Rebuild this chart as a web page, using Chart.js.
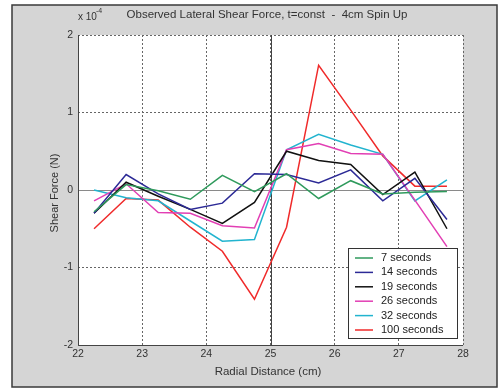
<!DOCTYPE html>
<html>
<head>
<meta charset="utf-8">
<script src="https://cdn.jsdelivr.net/npm/chart.js@4/dist/chart.umd.min.js"></script>
<style>
  body { margin: 0; background: #fff; }
  #wrap { width: 503px; height: 389px; position: relative; }
</style>
</head>
<body>
<div id="wrap"><canvas id="c" width="503" height="389"></canvas></div>
<script>
// radial positions (cm) and shear force values (x 1e-4 N)
const radialDistance = [22.25, 22.75, 23.25, 23.75, 24.25, 24.75, 25.25, 25.75, 26.25, 26.75, 27.25, 27.75];
const sec7   = [-0.28, 0.07, -0.01, -0.12, 0.19, -0.02, 0.21, -0.11, 0.12, -0.05, -0.03, -0.02];
const sec14  = [-0.30, 0.20, -0.05, -0.25, -0.17, 0.21, 0.20, 0.09, 0.26, -0.14, 0.15, -0.38];
const sec19  = [-0.30, 0.10, -0.08, -0.25, -0.43, -0.16, 0.50, 0.38, 0.33, -0.06, 0.23, -0.50];
const sec26  = [-0.14, 0.08, -0.29, -0.30, -0.46, -0.49, 0.52, 0.60, 0.47, 0.46, -0.13, -0.73];
const sec32  = [0.00, -0.10, -0.14, -0.40, -0.66, -0.64, 0.52, 0.72, 0.58, 0.46, -0.14, 0.13];
const sec100 = [-0.50, -0.11, -0.13, -0.48, -0.79, -1.41, -0.48, 1.61, 1.03, 0.44, 0.05, 0.05];
const seriesLabels = ['7 seconds', '14 seconds', '19 seconds', '26 seconds', '32 seconds', '100 seconds'];
const seriesColors = ['#2f9a5c', '#2c2a96', '#111111', '#e23fb4', '#22b4cf', '#f02a2a'];
const xTicks = [22, 23, 24, 25, 26, 27, 28];
const yTicks = [-2, -1, 0, 1, 2];

const allSeries = [sec7, sec14, sec19, sec26, sec32, sec100];
const FONT = 'Arial, "Liberation Sans", sans-serif';

const datasets = allSeries.map(function (vals, i) {
    return {
        label: seriesLabels[i],
        data: vals.map(function (v, j) { return { x: radialDistance[j], y: v }; }),
        borderColor: seriesColors[i],
        backgroundColor: seriesColors[i],
        borderWidth: 1.5,
        pointRadius: 0,
        tension: 0,
        fill: false
    };
});

// grey figure frame, title, axis titles, reference lines, legend box
const decor = {
    id: 'decor',
    beforeDraw(chart) {
        const ctx = chart.ctx;
        const a = chart.chartArea;
        ctx.save();
        ctx.fillStyle = '#d5d5d5';
        ctx.fillRect(12, 5, 485, 382);
        ctx.strokeStyle = '#3a3a3a';
        ctx.lineWidth = 1.5;
        ctx.strokeRect(12, 5, 485, 382);
        ctx.fillStyle = '#ffffff';
        ctx.fillRect(a.left, a.top, a.right - a.left, a.bottom - a.top);
        ctx.restore();
    },
    beforeDatasetsDraw(chart) {
        const ctx = chart.ctx;
        const xs = chart.scales.x, ys = chart.scales.y;
        const a = chart.chartArea;
        ctx.save();
        // zero line
        ctx.strokeStyle = '#8a8a8a';
        ctx.lineWidth = 1;
        const y0 = Math.round(ys.getPixelForValue(0)) + 0.5;
        ctx.beginPath(); ctx.moveTo(a.left, y0); ctx.lineTo(a.right, y0); ctx.stroke();
        // vertical line at 25 cm
        ctx.strokeStyle = '#444';
        const x25 = Math.round(xs.getPixelForValue(25)) + 0.5;
        ctx.beginPath(); ctx.moveTo(x25, a.top); ctx.lineTo(x25, a.bottom); ctx.stroke();
        // solid left / bottom axes
        ctx.strokeStyle = '#444';
        ctx.beginPath();
        ctx.moveTo(a.left + 0.5, a.top); ctx.lineTo(a.left + 0.5, a.bottom + 0.5);
        ctx.lineTo(a.right, a.bottom + 0.5);
        ctx.stroke();
        ctx.restore();
    },
    afterDraw(chart) {
        const ctx = chart.ctx;
        ctx.save();
        ctx.fillStyle = '#333';
        ctx.textBaseline = 'middle';
        // title
        ctx.font = '11.5px ' + FONT;
        ctx.textAlign = 'center';
        ctx.fillText('Observed Lateral Shear Force, t=const  -  4cm Spin Up', 267, 15);
        // exponent label
        ctx.textAlign = 'left';
        ctx.font = '10px ' + FONT;
        ctx.fillText('x 10', 78, 17);
        ctx.font = '7px ' + FONT;
        ctx.fillText('-4', 96, 11);
        // axis titles
        ctx.font = '11.5px ' + FONT;
        ctx.textAlign = 'center';
        ctx.fillText('Radial Distance (cm)', 268, 372);
        ctx.font = '11px ' + FONT;
        ctx.translate(55, 193);
        ctx.rotate(-Math.PI / 2);
        ctx.fillText('Shear Force (N)', 0, 0);
        ctx.restore();

        // legend
        ctx.save();
        ctx.fillStyle = '#fff';
        ctx.fillRect(348, 248, 109, 90);
        ctx.strokeStyle = '#333';
        ctx.lineWidth = 1;
        ctx.strokeRect(348.5, 248.5, 109, 90);
        ctx.font = '11px ' + FONT;
        ctx.textAlign = 'left';
        ctx.textBaseline = 'middle';
        seriesLabels.forEach(function (lbl, i) {
            const y = 258 + i * 14.4;
            ctx.strokeStyle = seriesColors[i];
            ctx.lineWidth = 1.5;
            ctx.beginPath(); ctx.moveTo(355, y); ctx.lineTo(373, y); ctx.stroke();
            ctx.fillStyle = '#222';
            ctx.fillText(lbl, 381, y);
        });
        ctx.restore();
    }
};

new Chart(document.getElementById('c'), {
    type: 'line',
    data: { datasets: datasets },
    options: {
        responsive: false,
        animation: false,
        layout: { padding: { left: 0, top: 35, right: 40, bottom: 0 } },
        plugins: { legend: { display: false }, tooltip: { enabled: false }, title: { display: false } },
        scales: {
            x: {
                type: 'linear',
                min: 22, max: 28,
                afterBuildTicks(scale) { scale.ticks = xTicks.map(function (v) { return { value: v }; }); },
                afterFit(scale) { scale.height = 44; },
                grid: { color: '#666', lineWidth: 1, drawTicks: false },
                border: { display: false, dash: [2, 2] },
                ticks: { color: '#333', font: { family: FONT, size: 10.5 }, padding: 3, maxRotation: 0 }
            },
            y: {
                min: -2, max: 2,
                afterBuildTicks(scale) { scale.ticks = yTicks.map(function (v) { return { value: v }; }); },
                afterFit(scale) { scale.width = 78; },
                grid: { color: '#666', lineWidth: 1, drawTicks: false },
                border: { display: false, dash: [2, 2] },
                ticks: { color: '#333', font: { family: FONT, size: 10.5 }, padding: 5 }
            }
        }
    },
    plugins: [decor]
});
</script>
</body>
</html>
